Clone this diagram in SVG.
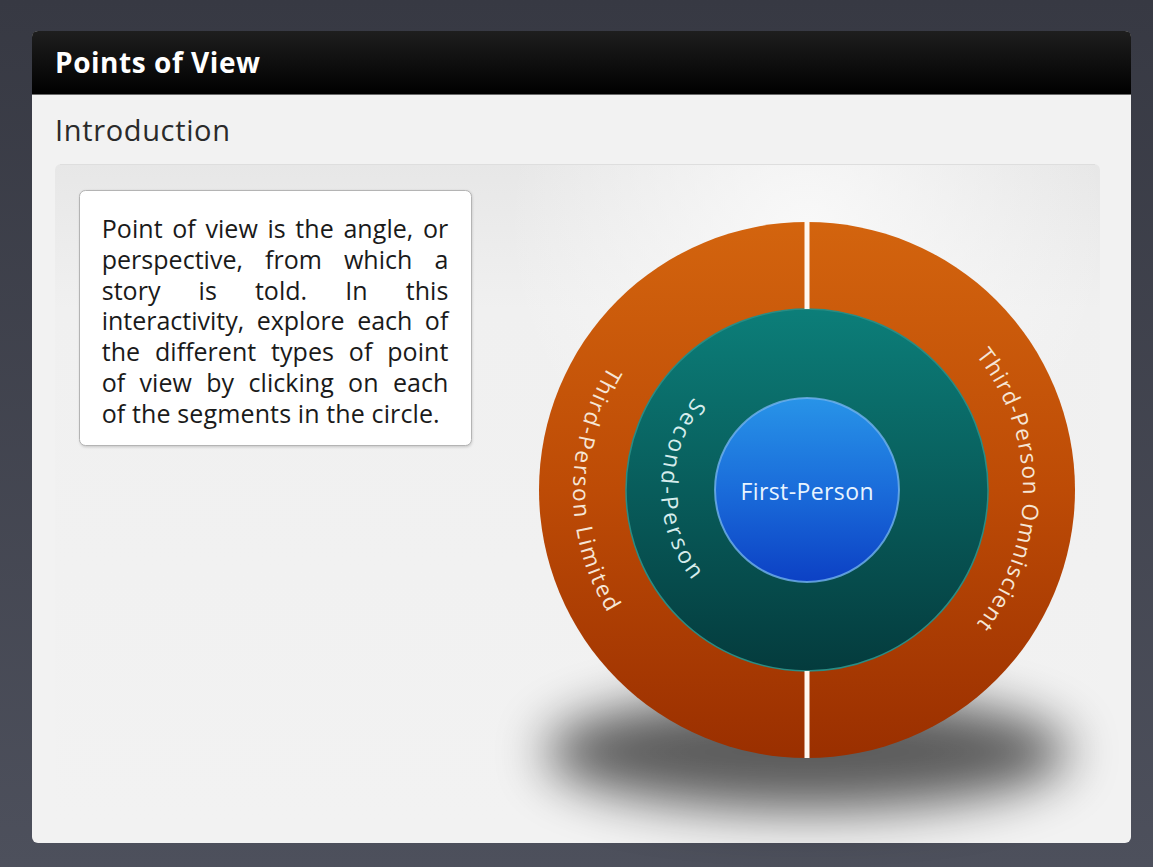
<svg xmlns="http://www.w3.org/2000/svg" xmlns:xlink="http://www.w3.org/1999/xlink" width="1153" height="867" viewBox="0 0 1153 867">
  <defs>
    <linearGradient id="bgFrame" x1="0" y1="0" x2="0" y2="1">
      <stop offset="0" stop-color="#373943"/>
      <stop offset="1" stop-color="#4d505c"/>
    </linearGradient>
    <linearGradient id="hdr" x1="0" y1="0" x2="0" y2="1">
      <stop offset="0" stop-color="#1e1e1e"/>
      <stop offset="1" stop-color="#000000"/>
    </linearGradient>
    <linearGradient id="inner" x1="0" y1="0" x2="0" y2="1">
      <stop offset="0" stop-color="#e7e7e7"/>
      <stop offset="0.22" stop-color="#f0f0f0"/>
      <stop offset="1" stop-color="#f2f2f2"/>
    </linearGradient>
    <radialGradient id="glow" cx="807" cy="230" r="300" gradientUnits="userSpaceOnUse">
      <stop offset="0" stop-color="#fafafa" stop-opacity="0.9"/>
      <stop offset="1" stop-color="#fafafa" stop-opacity="0"/>
    </radialGradient>
    <linearGradient id="orange" gradientUnits="userSpaceOnUse" x1="0" y1="222" x2="0" y2="758">
      <stop offset="0" stop-color="#d3640e"/>
      <stop offset="0.5" stop-color="#bd4b06"/>
      <stop offset="1" stop-color="#9a2f00"/>
    </linearGradient>
    <linearGradient id="teal" gradientUnits="userSpaceOnUse" x1="0" y1="309" x2="0" y2="671">
      <stop offset="0" stop-color="#0c7e79"/>
      <stop offset="1" stop-color="#043b3d"/>
    </linearGradient>
    <linearGradient id="blue" gradientUnits="userSpaceOnUse" x1="0" y1="397" x2="0" y2="583">
      <stop offset="0" stop-color="#2894e8"/>
      <stop offset="0.5" stop-color="#1a6cda"/>
      <stop offset="1" stop-color="#0c40c4"/>
    </linearGradient>
    <filter id="shadowBlur" x="-50%" y="-100%" width="200%" height="300%">
      <feGaussianBlur stdDeviation="26"/>
    </filter>
    <filter id="boxShadow" x="-10%" y="-10%" width="120%" height="120%">
      <feGaussianBlur stdDeviation="1.5"/>
    </filter>
    <path id="arcLimited" d="M 690 287.4 A 234 234 0 0 0 690 692.6"/>
    <path id="arcSecond" d="M 734 363.6 A 146 146 0 0 0 734 616.4"/>
    <path id="arcOmni" d="M 915 302.9 A 216 216 0 0 1 915 677.1"/>
  </defs>
  <style>
    .body { font-family: "Open Sans", "Noto Sans", "Liberation Sans", sans-serif; font-size: 25px; fill: #1a1a1a; }
    .ring { font-family: "Open Sans", "Noto Sans", "Liberation Sans", sans-serif; font-size: 22.5px; fill: #f6e6d6; }
    .second { font-family: "Open Sans", "Noto Sans", "Liberation Sans", sans-serif; font-size: 23px; fill: #d6ecec; }
    .first { font-family: "Open Sans", "Noto Sans", "Liberation Sans", sans-serif; font-size: 23px; fill: #e8f4ff; }
    .divider { stroke: #fff8f0; stroke-width: 5; }
  </style>

  <!-- frame -->
  <rect x="0" y="0" width="1153" height="867" fill="url(#bgFrame)"/>

  <!-- window -->
  <g id="window">
    <rect x="32" y="31" width="1099" height="812" rx="6" fill="#f2f2f2"/>
    <path d="M 32 94 L 32 37 Q 32 31 38 31 L 1125 31 Q 1131 31 1131 37 L 1131 94 Z" fill="url(#hdr)"/>
    <line x1="32" y1="94.5" x2="1131" y2="94.5" stroke="#6a6a6a" stroke-width="1"/>
    <text x="55" y="73" font-family="'Open Sans', 'Noto Sans', 'Liberation Sans', sans-serif" font-size="28" font-weight="bold" fill="#ffffff" textLength="205" lengthAdjust="spacing">Points of View</text>
    <text x="55" y="141" font-family="'Open Sans', 'Noto Sans', 'Liberation Sans', sans-serif" font-size="29" fill="#2a2a2a" textLength="175" lengthAdjust="spacing">Introduction</text>
    <rect x="55" y="164" width="1045" height="660" rx="6" fill="url(#inner)"/>
    <rect x="55" y="164" width="1045" height="400" fill="url(#glow)"/>
    <line x1="60" y1="164.5" x2="1095" y2="164.5" stroke="#dedede" stroke-width="1"/>
  </g>

  <!-- intro text box -->
  <g id="intro-box">
    <rect x="80" y="191" width="392" height="256" rx="6" fill="#000" opacity="0.18" filter="url(#boxShadow)"/>
    <rect x="79.5" y="190.5" width="392" height="255" rx="6" fill="#ffffff" stroke="#b4b4b4" stroke-width="1"/>
    <text class="body" x="101.7" y="238" word-spacing="3" textLength="346.6" lengthAdjust="spacing">Point of view is the angle, or</text>
    <text class="body" x="101.7" y="268.8" word-spacing="15.5" textLength="346.6" lengthAdjust="spacing">perspective, from which a</text>
    <text class="body" x="101.7" y="299.6" word-spacing="31.5" textLength="346.6" lengthAdjust="spacing">story is told. In this</text>
    <text class="body" x="101.7" y="330.4" word-spacing="6" textLength="346.6" lengthAdjust="spacing">interactivity, explore each of</text>
    <text class="body" x="101.7" y="361.2" word-spacing="8.4" textLength="346.6" lengthAdjust="spacing">the different types of point</text>
    <text class="body" x="101.7" y="392" word-spacing="7.8" textLength="346.6" lengthAdjust="spacing">of view by clicking on each</text>
    <text class="body" x="101.7" y="422.7" textLength="338" lengthAdjust="spacing">of the segments in the circle.</text>
  </g>

  <!-- shadow under circle -->
  <ellipse cx="807" cy="752" rx="262" ry="58" fill="#000" opacity="0.62" filter="url(#shadowBlur)"/>

  <g id="node-third-person-limited">
    <path d="M 807 222 A 268 268 0 0 0 807 758 Z" fill="url(#orange)"/>
    <text class="ring" letter-spacing="2.1"><textPath href="#arcLimited" xlink:href="#arcLimited" startOffset="50%" text-anchor="middle">Third-Person Limited</textPath></text>
  </g>

  <g id="node-third-person-omniscient">
    <path d="M 807 222 A 268 268 0 0 1 807 758 Z" fill="url(#orange)"/>
    <text class="ring" letter-spacing="1.3"><textPath href="#arcOmni" xlink:href="#arcOmni" startOffset="50%" text-anchor="middle">Third-Person Omniscient</textPath></text>
  </g>

  <g id="node-second-person">
    <circle cx="807" cy="490" r="181" fill="url(#teal)" stroke="#2a8c84" stroke-width="1.5"/>
    <text class="second" letter-spacing="3"><textPath href="#arcSecond" xlink:href="#arcSecond" startOffset="50%" text-anchor="middle">Second-Person</textPath></text>
  </g>

  <g id="node-first-person">
    <circle cx="807" cy="490" r="92" fill="url(#blue)" stroke="#72b2ee" stroke-width="2" stroke-opacity="0.8"/>
    <text class="first" x="807" y="500" text-anchor="middle" textLength="133" lengthAdjust="spacing">First-Person</text>
  </g>

  <g id="connectors">
    <line class="divider" x1="807" y1="222" x2="807" y2="309"/>
    <line class="divider" x1="807" y1="671" x2="807" y2="758"/>
  </g>
</svg>
